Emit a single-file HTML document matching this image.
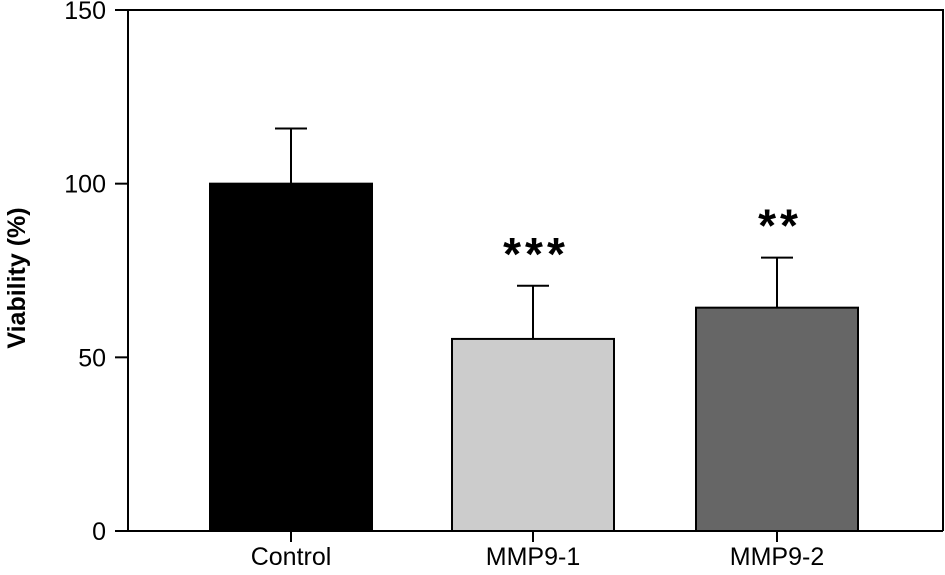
<!DOCTYPE html>
<html><head><meta charset="utf-8"><style>
html,body{margin:0;padding:0;background:#fff;}
svg{display:block;font-family:"Liberation Sans",sans-serif;}
</style></head><body>
<svg id="chart" width="945" height="575">
<g id="plot"></g>
</svg>
<script>
const categories = ["Control","MMP9-1","MMP9-2"];
const values = [100, 55.3, 64.3];
const errors = [15.9, 15.3, 14.4];
const significance = ["", "***", "**"];
const yTicks = [0, 50, 100, 150];
const colors = ["#000000","#cccccc","#666666"];

const NS="http://www.w3.org/2000/svg";
const g=document.getElementById('plot');
const x0=128,x1=943,yTop=10,yBot=531;
function y(v){return yBot-(v/150)*(yBot-yTop);}
const centers=[291,533,777], barW=162;
function xc(i){return centers[i];}
function mk(tag,attrs,text){const e=document.createElementNS(NS,tag);for(const k in attrs)e.setAttribute(k,attrs[k]);if(text!==undefined)e.textContent=text;g.appendChild(e);return e;}

let e=mk('path',{d:`M${x0},${yTop} L${x1},${yTop} L${x1},${yBot}`,fill:'none',stroke:'#000','stroke-width':2});


e=mk('line',{x1:x0,y1:yTop-1,x2:x0,y2:yBot+1,stroke:'#000','stroke-width':2});


e=mk('line',{x1:x0,y1:yBot,x2:x1,y2:yBot,stroke:'#000','stroke-width':2});



yTicks.forEach(t=>{
  let l=mk('line',{x1:x0-13,y1:y(t),x2:x0,y2:y(t),stroke:'#000','stroke-width':2});
  
  
  let tx=mk('text',{x:106,y:y(t)+9,'text-anchor':'end','font-size':25,fill:'#000'},String(t));
  
  
});

categories.forEach((c,i)=>{
  const cx=xc(i);
  let tk=mk('line',{x1:cx,y1:yBot,x2:cx,y2:yBot+11,stroke:'#000','stroke-width':2});
  
  
  let b=mk('rect',{x:cx-barW/2,y:y(values[i]),width:barW,height:yBot-y(values[i]),fill:colors[i],stroke:'#000','stroke-width':2});
  
  
  const top=y(values[i]+errors[i]);
  let ev=mk('path',{d:`M${cx},${y(values[i])} L${cx},${top} M${cx-16},${top} L${cx+16},${top}`,stroke:'#000','stroke-width':2,fill:'none'});
  
  
  let lb=mk('text',{x:cx,y:yBot+34,'text-anchor':'middle','font-size':25,fill:'#000'},c);
  
  
  if(significance[i]){
    let s=mk('text',{x:cx+3,y:top-16,'text-anchor':'middle','font-size':46,'font-weight':'bold','letter-spacing':'4',fill:'#000'},significance[i]);
    
    
  }
});
let yt=mk('text',{x:0,y:0,transform:'translate(25,278) rotate(-90)','text-anchor':'middle','font-size':25,'font-weight':'bold',fill:'#000'},'Viability (%)');


</script>
</body></html>
